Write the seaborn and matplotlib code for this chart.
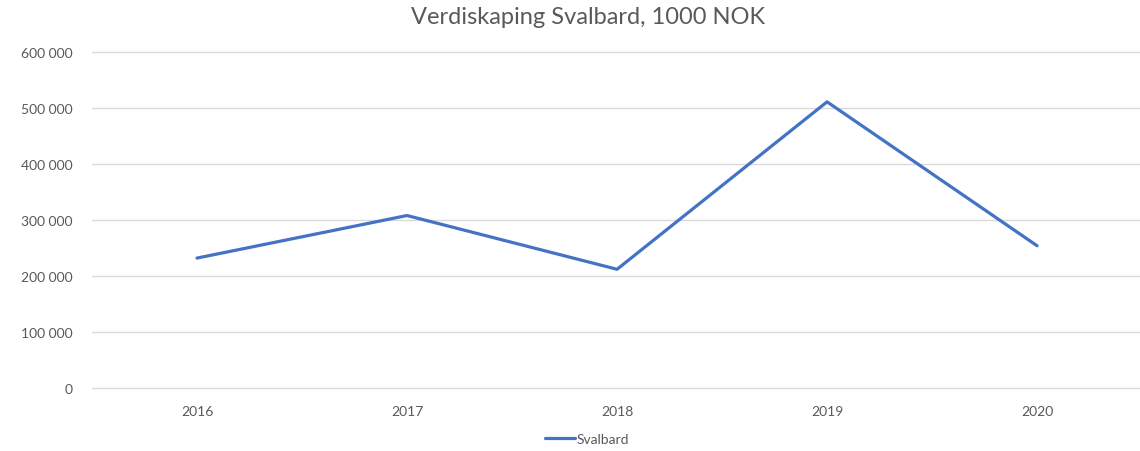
import matplotlib
matplotlib.use("Agg")
import matplotlib.pyplot as plt
import matplotlib.ticker as mticker
import pandas as pd
import seaborn as sns

years = ["2016", "2017", "2018", "2019", "2020"]
svalbard = [232000, 308000, 212000, 511000, 254000]
yticks = [0, 100000, 200000, 300000, 400000, 500000, 600000]

df = pd.DataFrame({"År": years, "Svalbard": svalbard})

sns.set_style("white")
plt.rcParams["font.family"] = ["Lato", "DejaVu Sans"]

fig = plt.figure(figsize=(11.4, 4.52), dpi=100)
ax = fig.add_axes([92 / 1140, 1 - 389 / 452, 1 - 92 / 1140, (389 - 53) / 452])

sns.lineplot(data=df, x="År", y="Svalbard", ax=ax, color="#4472C4",
             linewidth=2.3, label="Svalbard", sort=False)

ax.set_xlim(-0.5, 4.49)
ax.set_ylim(0, 600000)
ax.set_yticks(yticks)
ax.yaxis.set_major_formatter(mticker.FuncFormatter(lambda v, p: f"{int(v):,}".replace(",", " ")))
ax.grid(axis="x", visible=False)
for t in yticks:
    ax.axhline(t, color="#D9D9D9", linewidth=1, zorder=0, clip_on=False)
for s in ax.spines.values():
    s.set_visible(False)
ax.tick_params(axis="both", length=0, labelsize=10, labelcolor="#595959")
ax.tick_params(axis="y", pad=14)
ax.tick_params(axis="x", pad=12)
ax.set_xlabel("")
ax.set_ylabel("")

fig.text(588 / 1140, 1 - 18 / 452, "Verdiskaping Svalbard, 1000 NOK", ha="center", va="center",
         fontsize=17, color="#595959")

leg = ax.legend(loc="center", bbox_to_anchor=(587 / 1140, 1 - 440 / 452), bbox_transform=fig.transFigure,
                frameon=False, fontsize=10, handlelength=2.2, handletextpad=0.1, labelcolor="#595959")

fig.savefig("out.png", dpi=100)
